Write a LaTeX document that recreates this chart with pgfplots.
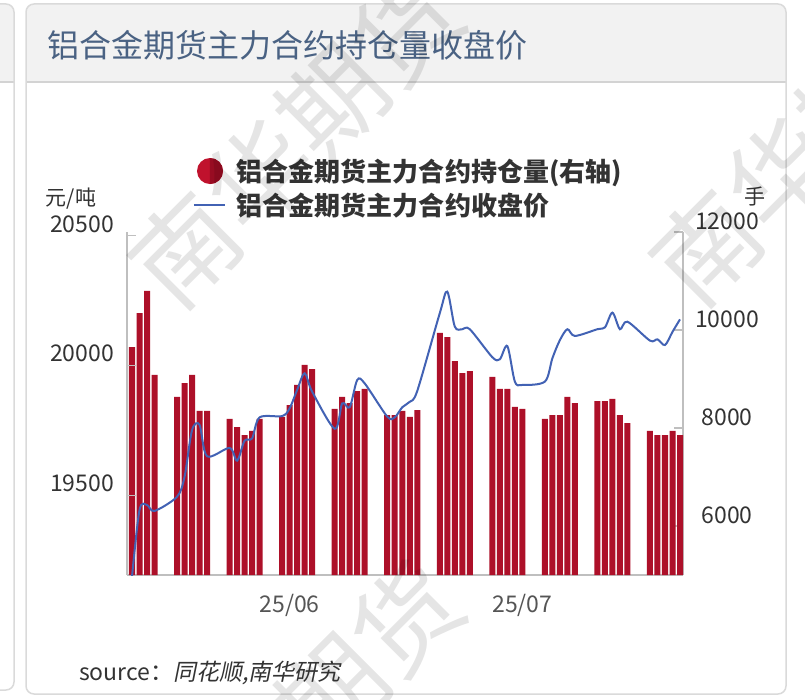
\documentclass[border=0pt]{standalone}
\usepackage{pgfplots}
\pgfplotsset{compat=1.18}
\usepackage{pgfplotstable}
\usepackage{fontspec}
\setmainfont{Noto Sans CJK SC}
\newfontfamily\cjkit[FakeSlant=0.2]{Noto Sans CJK SC}

\definecolor{barred}{HTML}{AD1029}
\definecolor{legred}{HTML}{C0122D}
\definecolor{legreddark}{HTML}{980C22}
\definecolor{lineblue}{HTML}{4262B4}
\definecolor{axisgray}{HTML}{BFBFBF}
\definecolor{headgray}{HTML}{F2F2F2}
\definecolor{headline}{HTML}{D3D3D3}
\definecolor{cardborder}{HTML}{DADADA}
\definecolor{titleblue}{HTML}{4A6283}
\definecolor{labcol}{HTML}{333333}
\definecolor{xlabcol}{HTML}{555555}

% open interest (right axis), x = calendar day from the first session
\pgfplotstableread{
day oi
0 9653
1 10347
2 10796
3 9082
6 8633
7 8918
8 9082
9 8347
10 8347
13 8184
14 8020
15 7857
16 7939
17 8184
20 8225
21 8469
22 8878
23 9286
24 9204
27 8388
28 8633
29 8510
30 8755
31 8796
34 8265
35 8265
36 8347
37 8225
38 8367
41 9939
42 9857
43 9367
44 9122
45 9163
48 9041
49 8796
50 8796
51 8429
52 8388
55 8184
56 8265
57 8265
58 8633
59 8510
62 8551
63 8551
64 8592
65 8265
66 8102
69 7939
70 7857
71 7857
72 7939
73 7857
}\oitable

% closing price (left axis)
\pgfplotstableread{
day close
0 19185
1 19443
2 19462
3 19439
6 19494
7 19571
8 19751
9 19771
10 19650
13 19682
14 19633
15 19710
16 19719
17 19800
20 19805
21 19835
22 19906
23 19970
24 19899
27 19756
28 19854
29 19839
30 19944
31 19931
34 19803
35 19800
36 19839
37 19860
38 19902
41 20202
42 20285
43 20150
44 20140
45 20140
48 20032
49 20024
50 20075
51 19938
52 19925
55 19938
56 20028
57 20098
58 20140
59 20114
62 20140
63 20147
64 20204
65 20140
66 20169
69 20096
70 20101
71 20079
72 20130
73 20178
}\closetable

\pgfplotsset{
  common/.style={
    at={(127pt,124pt)}, anchor=south west,
    scale only axis, width=556pt, height=343pt,
    xmin=-0.666, xmax=73.4,
    axis line style={-, axisgray, line width=1.5pt},
    tick align=inside, major tick length=9pt,
    y tick style={axisgray, line width=1.2pt},
    /pgf/number format/assume math mode=true,
    /pgf/number format/1000 sep={},
    scaled y ticks=false,
  },
}

\begin{document}
\begin{tikzpicture}
\path[use as bounding box] (0pt,0pt) rectangle (805pt,699pt);

% neighbouring card on the left
\fill[headgray] (-20pt,617pt) [sharp corners] -- (14pt,617pt) [rounded corners=8pt] -- (14pt,695pt) -- (-20pt,695pt) [sharp corners] -- cycle;
\draw[headline, line width=2pt] (-20pt,617pt) -- (14pt,617pt);
\draw[cardborder, line width=1.5pt, rounded corners=8pt] (-30pt,9pt) rectangle (14pt,695pt);

% main card
\fill[white, rounded corners=8pt] (26pt,5pt) rectangle (786pt,695pt);
\fill[headgray] (26pt,617pt) [sharp corners] -- (786pt,617pt) [rounded corners=8pt] -- (786pt,695pt) -- (26pt,695pt) [sharp corners] -- cycle;
\draw[headline, line width=2pt] (26pt,617pt) -- (786pt,617pt);
\draw[cardborder, line width=1.5pt, rounded corners=8pt] (26pt,5pt) rectangle (786pt,695pt);

\node[anchor=west, inner sep=0pt, text=titleblue, font=\fontsize{32}{32}\selectfont] at (47pt,654pt) {铝合金期货主力合约持仓量收盘价};

% units
\node[inner sep=0pt, text=labcol, font=\fontsize{21}{21}\selectfont] at (71pt,500pt) {元/吨};
\node[inner sep=0pt, text=labcol, font=\fontsize{21}{21}\selectfont] at (755pt,502pt) {手};

% bars: open interest on the right axis
\begin{axis}[common,
  ymin=5000, ymax=12000,
  axis x line*=bottom, axis y line*=right,
  ytick={6000,8000,10000,12000},
  xtick={21,52}, xticklabels={25/06,25/07},
  x tick style={draw=none},
  xticklabel style={anchor=center, inner sep=0pt, yshift=-30pt, text=xlabcol, font=\fontsize{23}{23}\selectfont},
  yticklabel style={anchor=center, inner sep=0pt, xshift=44pt, yshift=11pt, text=labcol, font=\fontsize{23}{23}\selectfont},
]
\addplot[ybar, bar width=0.8, bar shift=0pt, fill=barred, draw=none] table[x=day, y=oi] {\oitable};
\end{axis}

% line: closing price on the left axis
\begin{axis}[common,
  ymin=19192, ymax=20515,
  axis x line=none, axis y line*=left,
  ytick={19500,20000,20500},
  yticklabel style={anchor=center, inner sep=0pt, xshift=-45pt, yshift=12pt, text=labcol, font=\fontsize{23}{23}\selectfont},
  legend style={at={(0.1187,1.2157)}, anchor=north west, draw=none, fill=none,
    inner sep=0pt, outer sep=0pt, row sep=8pt, column sep=11pt,
    text=labcol, font=\bfseries\fontsize{26}{26}\selectfont,
    nodes={inner sep=0pt}},
  legend cell align=left,
]
\addlegendimage{legend image code/.code={
  \path[draw=none, fill=none] (0pt,-13pt) rectangle (31pt,13pt);
  \fill[legred, draw=none] (16pt,0pt) circle (13pt);
  \fill[legreddark, draw=none] (16pt,13pt) arc[start angle=90, end angle=-90, radius=13pt] -- cycle;}}
\addlegendentry{铝合金期货主力合约持仓量(右轴)}
\addplot[lineblue, line width=2pt, smooth, tension=0.5,
  legend image code/.code={
    \path[draw=none, fill=none] (0pt,-13pt) rectangle (31pt,13pt);
    \draw[lineblue, line width=2pt] (0pt,0pt) -- (31pt,0pt);}]
  table[x=day, y=close] {\closetable};
\addlegendentry{铝合金期货主力合约收盘价}
\end{axis}

% watermark
\begin{scope}[opacity=0.1]
\node[rotate=45, font=\fontsize{104}{104}\selectfont, text=black] at (296pt,560pt) {南华期货};
\node[rotate=45, font=\fontsize{104}{104}\selectfont, text=black] at (817pt,562pt) {南华期货};
\node[rotate=45, font=\fontsize{104}{104}\selectfont, text=black] at (296pt,-30pt) {南华期货};
\end{scope}

\node[anchor=west, inner sep=0pt, text=labcol, font=\fontsize{23}{23}\selectfont] at (79pt,26pt) {source：{\cjkit 同花顺,南华研究}};
\end{tikzpicture}
\end{document}
